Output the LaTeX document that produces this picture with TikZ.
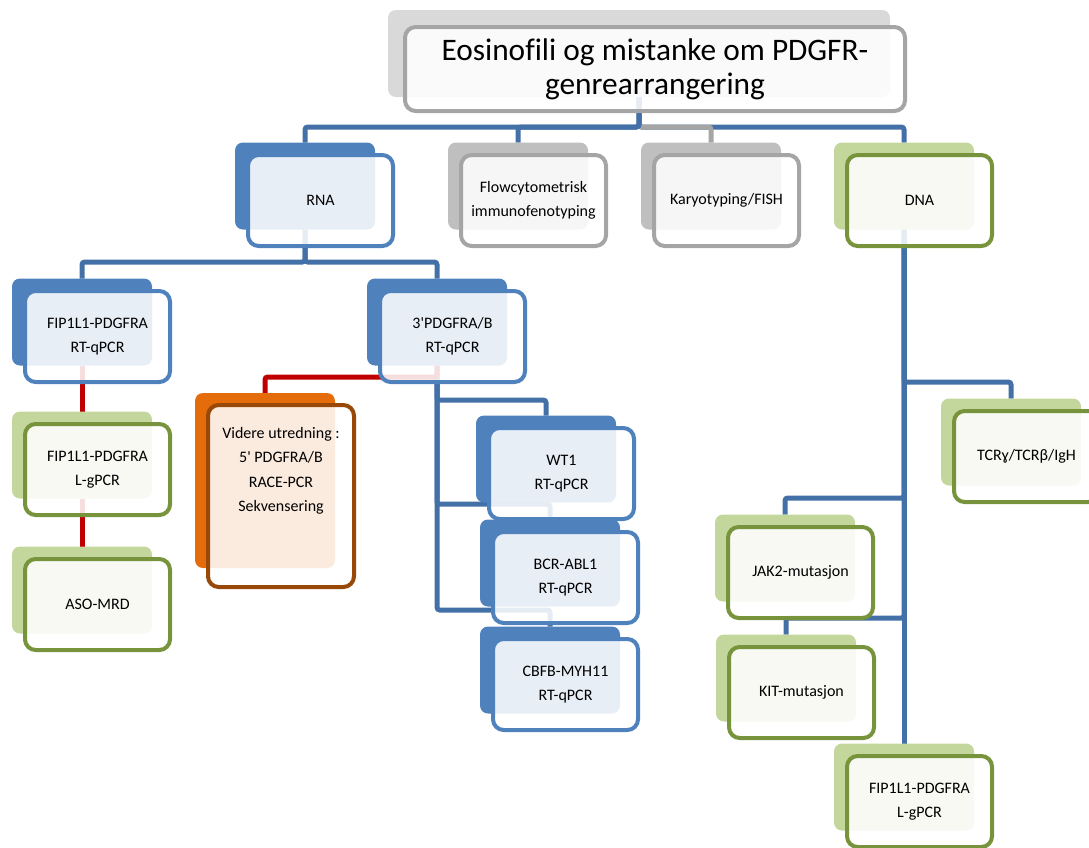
\documentclass[tikz,border=0pt]{standalone}
\usepackage{fontspec}
\setmainfont{Carlito}[Ligatures={TeX,NoCommon}]
\usetikzlibrary{backgrounds}
\definecolor{blueB}{HTML}{4F81BD}
\definecolor{connblue}{HTML}{4470A8}
\definecolor{grayB}{HTML}{BFBFBF}
\definecolor{grayT}{HTML}{D9D9D9}
\definecolor{grayL}{HTML}{A5A5A5}
\definecolor{greenB}{HTML}{C3D69B}
\definecolor{greenL}{HTML}{77933C}
\definecolor{orangeB}{HTML}{E46C0A}
\definecolor{orangeL}{HTML}{984807}
\definecolor{redC}{HTML}{C00000}
\newcommand\mkbox[6]{%
  \node[backrect, fill=#4] (#1B) at (#2,#3) {};
  \node[frontrect, draw=#5] (#1) at ({#2+15.5},{#3+14.5}) {#6};}
\begin{document}
\begin{tikzpicture}[x=0.75pt,y=-0.75pt,
  backrect/.style={inner sep=0pt, outer sep=0pt, minimum width=105pt, minimum height=65.25pt, rounded corners=6pt},
  frontrect/.style={inner sep=0pt, outer sep=0pt, minimum width=108.75pt, minimum height=68.25pt, rounded corners=8pt, line width=3pt, fill=white, fill opacity=0.87, text opacity=1, align=center, font=\fontsize{12}{18}\selectfont},
  conn/.style={line width=3.75pt, draw=connblue, rounded corners=2pt},
  redconn/.style={line width=3.75pt, draw=redC, rounded corners=2pt},
  txt/.style={align=center, font=\fontsize{12}{18.4}\selectfont}]
\useasboundingbox (0,0) rectangle (1089,847);

% title
\node[backrect, fill=grayT, minimum width=376.5pt, minimum height=65.25pt] (titleB) at (639,53.5) {};
\node[frontrect, draw=grayL, minimum width=375pt, minimum height=63pt, font=\fontsize{23.5}{25.5}\selectfont] (title) at (655,69) {Eosinofili og mistanke om PDGFR-\\genrearrangering};

% level 1
\mkbox{rna}{305}{186}{blueB}{blueB}{RNA}
\mkbox{flow}{518}{186}{grayB}{grayL}{Flowcytometrisk\\immunofenotyping}
\mkbox{kar}{711}{186}{grayB}{grayL}{Karyotyping/FISH}
\mkbox{dna}{904}{186}{greenB}{greenL}{DNA}

% RNA branch
\mkbox{fip}{82}{322}{blueB}{blueB}{FIP1L1-PDGFRA\\RT-qPCR}
\mkbox{pdg}{437}{322}{blueB}{blueB}{3\textquotesingle PDGFRA/B\\RT-qPCR}
\mkbox{fipl}{82}{455}{greenB}{greenL}{FIP1L1-PDGFRA\\L-gPCR}
\mkbox{aso}{82}{590}{greenB}{greenL}{ASO-MRD}
\node[backrect, fill=orangeB, minimum height=131.25pt] (vidB) at (265,480.5) {};
\node[frontrect, draw=orangeL, minimum width=109.5pt, minimum height=136.5pt] (vid) at (281,496) {};
\node[txt] (vidT) at (281,471) {Videre utredning :\\5\textquotesingle{} PDGFRA/B\\RACE-PCR\\Sekvensering};
\mkbox{wt}{546}{459}{blueB}{blueB}{WT1\\RT-qPCR}
\mkbox{bcr}{550}{563}{blueB}{blueB}{BCR-ABL1\\RT-qPCR}
\mkbox{cbf}{550}{670}{blueB}{blueB}{CBFB-MYH11\\RT-qPCR}

% DNA branch
\mkbox{tcr}{1011}{442}{greenB}{greenL}{TCRɣ/TCRβ/IgH}
\mkbox{jak}{785}{558}{greenB}{greenL}{JAK2-mutasjon}
\mkbox{kit}{786}{678}{greenB}{greenL}{KIT-mutasjon}
\mkbox{fipd}{904}{787}{greenB}{greenL}{FIP1L1-PDGFRA\\L-gPCR}

\begin{pgfonlayer}{background}
\draw[conn] (titleB.south) -- ++(0,30) -| (dnaB.north);
\draw[conn, draw=grayL] (titleB.south) -- ++(0,30) -| (karB.north);
\draw[conn] (titleB.south) -- ++(0,30) -| (flowB.north);
\draw[conn] (titleB.south) -- ++(0,30) -| (rnaB.north);
\draw[conn] (rnaB.south) -- ++(0,32.5) -| (fipB.north);
\draw[conn] (rnaB.south) -- ++(0,32.5) -| (pdgB.north);
\draw[conn] (pdgB.south) -- ++(0,34.5) -| (wtB.north);
\draw[conn] (pdgB.south) -- ++(0,138.5) -| (bcrB.north);
\draw[conn] (pdgB.south) -- ++(0,244.5) -| (cbfB.north);
\draw[redconn] (pdgB.south) -- ++(0,11.5) -| (vidB.north);
\draw[redconn] (fipB.south) -- (fiplB.north);
\draw[redconn] (fiplB.south) -- (asoB.north);
\draw[conn] (dnaB.south) -- ++(0,152.5) -| (tcrB.north);
\draw[conn] (dnaB.south) -- ++(0,268.5) -| (jakB.north);
\draw[conn] (dnaB.south) -- ++(0,388.5) -| (kitB.north);
\draw[conn] (dnaB.south) -- (dnaB.south |- fipdB.north);
\end{pgfonlayer}
\end{tikzpicture}
\end{document}
